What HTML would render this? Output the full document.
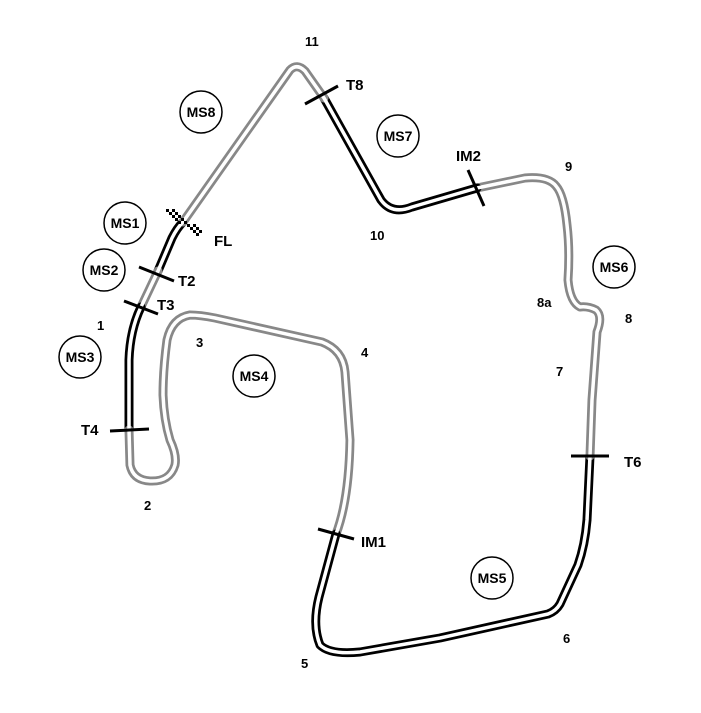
<!DOCTYPE html>
<html><head><style>
body{margin:0;background:#fff}
svg{display:block}
text{font-family:"Liberation Sans",sans-serif;font-weight:bold;fill:#000}
</style></head><body>
<svg width="701" height="713" viewBox="0 0 701 713">
<g fill="none" stroke-linejoin="round" stroke-linecap="round">
<path d="M183,222 Q177,228 172,238 L158,271" stroke="#000" stroke-width="9"/>
<path d="M158,271 L141,307" stroke="#888" stroke-width="9"/>
<path d="M141,307 Q130,330 129,360 L129,430" stroke="#000" stroke-width="9"/>
<path d="M129,430 L130,465 Q133,480 150,481 Q170,482 175,465 Q177,455 170,440 Q164,420 163,395 Q163,370 167,340 Q172,318 190,315 Q200,315 215,318 L322,342 Q343,350 345,372 L350,440 Q349,500 336,534" stroke="#888" stroke-width="9"/>
<path d="M336,534 L319,597 Q312,625 320,645 Q330,655 360,652 L440,638 L548,614 Q556,611 560,604 L578,565 Q585,545 587,520 L590,456" stroke="#000" stroke-width="9"/>
<path d="M590,456 L592,400 L597,332 Q603,316 596,310 Q588,306 580,307 Q570,302 568,280 Q570,250 567,225 Q564,195 556,186 Q548,176 525,178 L477,188" stroke="#888" stroke-width="9"/>
<path d="M477,188 L412,207 Q392,215 381,200 L324,98" stroke="#000" stroke-width="9"/>
<path d="M324,98 L305,71 Q297,63 290,70 L183,222" stroke="#888" stroke-width="9"/>
<path d="M183,222 Q177,228 172,238 L158,271 L141,307 Q130,330 129,360 L129,430 L130,465 Q133,480 150,481 Q170,482 175,465 Q177,455 170,440 Q164,420 163,395 Q163,370 167,340 Q172,318 190,315 Q200,315 215,318 L322,342 Q343,350 345,372 L350,440 Q349,500 336,534 L319,597 Q312,625 320,645 Q330,655 360,652 L440,638 L548,614 Q556,611 560,604 L578,565 Q585,545 587,520 L590,456 L592,400 L597,332 Q603,316 596,310 Q588,306 580,307 Q570,302 568,280 Q570,250 567,225 Q564,195 556,186 Q548,176 525,178 L477,188 L412,207 Q392,215 381,200 L324,98 L305,71 Q297,63 290,70 L183,222" stroke="#fff" stroke-width="3.5"/>
</g>
<g stroke="#000" stroke-width="3">
<line x1="139" y1="267" x2="174" y2="281"/>
<line x1="124" y1="301" x2="158" y2="314"/>
<line x1="110" y1="431" x2="149" y2="429"/>
<line x1="318" y1="529" x2="354" y2="539"/>
<line x1="571" y1="456" x2="609" y2="456"/>
<line x1="468" y1="170" x2="484" y2="206"/>
<line x1="305" y1="104" x2="338" y2="86"/>
</g>
<g fill="#000">
<rect x="166" y="209" width="3" height="3"/><rect x="172" y="209" width="3" height="3"/>
<rect x="169" y="212" width="3" height="3"/><rect x="175" y="212" width="3" height="3"/>
<rect x="172" y="215" width="3" height="3"/><rect x="178" y="215" width="3" height="3"/>
<rect x="175" y="218" width="3" height="3"/><rect x="181" y="218" width="3" height="3"/>
<rect x="178" y="221" width="3" height="3"/><rect x="184" y="221" width="3" height="3"/>
<rect x="187" y="224" width="3" height="3"/><rect x="193" y="224" width="3" height="3"/>
<rect x="190" y="227" width="3" height="3"/><rect x="196" y="227" width="3" height="3"/>
<rect x="193" y="230" width="3" height="3"/><rect x="199" y="230" width="3" height="3"/>
<rect x="196" y="233" width="3" height="3"/>
</g>
<g fill="none" stroke="#000" stroke-width="1.5">
<circle cx="201" cy="112" r="21"/>
<circle cx="125" cy="223" r="21"/>
<circle cx="104" cy="270" r="21"/>
<circle cx="80" cy="357" r="21"/>
<circle cx="254" cy="376" r="21"/>
<circle cx="398" cy="136" r="21"/>
<circle cx="614" cy="267" r="21"/>
<circle cx="492" cy="578" r="21"/>
</g>
<g font-size="14" text-anchor="middle">
<text x="201" y="117">MS8</text>
<text x="125" y="228">MS1</text>
<text x="104" y="275">MS2</text>
<text x="80" y="362">MS3</text>
<text x="254" y="381">MS4</text>
<text x="398" y="141">MS7</text>
<text x="614" y="272">MS6</text>
<text x="492" y="583">MS5</text>
</g>
<g font-size="15">
<text x="214" y="246">FL</text>
<text x="178" y="286">T2</text>
<text x="157" y="310">T3</text>
<text x="81" y="435">T4</text>
<text x="361" y="547">IM1</text>
<text x="624" y="467">T6</text>
<text x="456" y="161">IM2</text>
<text x="346" y="90">T8</text>
</g>
<g font-size="13">
<text x="305" y="46">11</text>
<text x="370" y="240">10</text>
<text x="565" y="171">9</text>
<text x="537" y="307">8a</text>
<text x="625" y="323">8</text>
<text x="556" y="376">7</text>
<text x="563" y="643">6</text>
<text x="301" y="668">5</text>
<text x="361" y="357">4</text>
<text x="196" y="347">3</text>
<text x="144" y="510">2</text>
<text x="97" y="330">1</text>
</g>
</svg>
</body></html>
